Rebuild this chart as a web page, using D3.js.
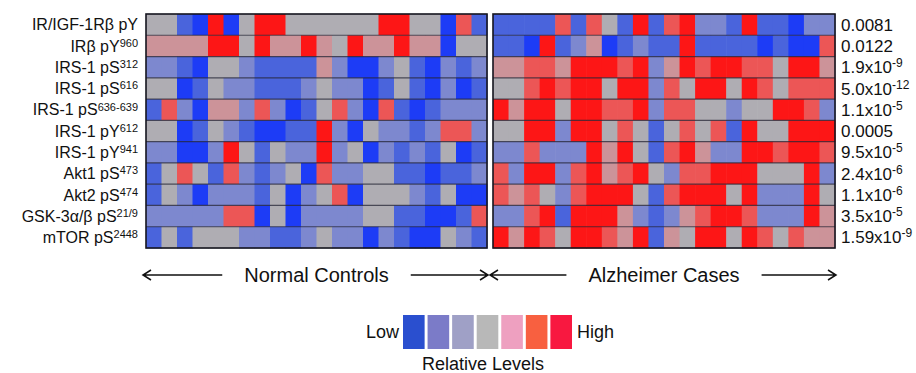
<!DOCTYPE html>
<html>
<head>
<meta charset="utf-8">
<script src="https://cdn.jsdelivr.net/npm/d3@7"></script>
<style>
  body { margin: 0; background: #fff; }
  svg text { font-family: "Liberation Sans", Arial, sans-serif; fill: #111; }
</style>
</head>
<body>
<div id="chartdiv"></div>
<script>
// row labels (name + superscript)
var rowNames = ["IR/IGF-1R\u03b2 pY", "IR\u03b2 pY", "IRS-1 pS", "IRS-1 pS", "IRS-1 pS", "IRS-1 pY",
                "IRS-1 pY", "Akt1 pS", "Akt2 pS", "GSK-3\u03b1/\u03b2 pS", "mTOR pS"];
var rowSups = ["", "960", "312", "616", "636-639", "612", "941", "473", "474", "21/9", "2448"];

// p-values: base and exponent (empty = plain number)
var pBase = ["0.0081", "0.0122", "1.9x10", "5.0x10", "1.1x10", "0.0005", "9.5x10", "2.4x10", "1.1x10", "3.5x10", "1.59x10"];
var pExp  = ["", "", "-9", "-12", "-5", "", "-5", "-6", "-6", "-5", "-9"];

var groups = ["Normal Controls", "Alzheimer Cases"];

// relative levels, -3 (low) .. 3 (high); one row per protein
var controls = [
  [0,0,-2,-3,3,-3,0,3,3,0,0,0,0,0,0,3,3,0,0,-3,2,-2],
  [1,1,1,1,3,3,0,3,1,1,3,1,0,3,1,1,3,1,1,-3,0,0],
  [-1,-1,-2,-3,0,0,-1,-2,-2,-2,-2,1,-1,-3,-3,-1,0,-2,-3,-1,-2,-1],
  [0,0,-3,-2,0,-1,-1,-2,-2,-2,-1,0,-1,-1,-3,-2,0,-2,-3,-1,-3,-2],
  [-2,2,-1,-3,1,1,-1,2,-1,-3,-2,0,2,-1,-3,2,-2,-3,-2,-1,-1,-1],
  [0,0,-3,-2,0,-1,-2,-3,-3,-2,-2,3,-1,-3,0,-1,-1,-2,-1,2,2,-1],
  [-1,-1,-3,-3,-1,3,0,-2,0,-1,-1,3,-1,0,-3,-1,-2,-1,-2,0,-3,-2],
  [-2,0,2,0,-2,2,-1,-2,-1,0,-3,2,-1,-1,0,0,-2,-2,-3,-2,-2,-1],
  [-2,0,-1,-3,-1,-1,-1,-2,0,-3,-1,0,2,-3,0,0,0,-1,-2,0,-3,-3],
  [-1,-1,-1,-1,-1,2,2,-3,0,-3,-1,-1,-1,-1,0,0,-2,-2,-3,-3,-2,2],
  [-2,0,-2,0,0,0,-1,-1,-2,-2,-1,0,-1,-1,-3,-1,-2,-3,-3,0,-1,-2]
];
var alzheimer = [
  [-2,-2,-2,-2,2,-2,2,0,-2,3,-2,2,3,-1,-1,-2,3,-2,-2,-3,-1,-1],
  [-2,-2,-3,3,-2,-1,1,-3,-2,-1,-2,-2,3,-2,-2,-2,-2,-3,-2,-3,-3,2],
  [1,1,2,2,1,3,3,3,2,3,-1,1,3,2,3,3,2,2,0,3,3,1],
  [0,0,2,3,2,3,3,0,3,3,-1,2,0,3,3,0,3,2,0,2,2,2],
  [3,1,3,3,0,3,3,2,2,3,-1,2,2,0,0,-1,0,0,3,3,2,-1],
  [0,0,3,3,-1,3,3,0,2,0,-2,0,2,0,2,-2,3,0,0,3,3,3],
  [-1,-1,2,-1,-1,-1,3,1,3,0,-2,2,3,1,-1,-1,3,3,2,3,3,2],
  [2,-1,3,3,-1,2,3,1,2,3,0,-1,2,2,3,3,3,0,0,0,3,-1],
  [2,1,2,0,-1,2,3,3,3,0,-2,2,3,3,3,0,3,-1,-1,-1,3,0],
  [-1,-1,2,3,-2,3,3,3,1,-1,-2,-1,1,2,3,3,2,-1,-1,-1,3,1],
  [3,1,3,2,0,3,3,2,1,3,-2,1,0,3,3,0,3,2,0,2,1,1]
];

var legendLevels = [-3, -2, -1, 0, 1, 2, 3];

var width = 916, height = 373;

var svg = d3.select("#chartdiv").append("svg")
  .attr("width", width)
  .attr("height", height);

var color = d3.scaleOrdinal()
  .domain(legendLevels)
  .range(["#1d3cf6", "#4a64dc", "#7d88cf", "#afadb3", "#cc9399", "#ec5656", "#fd1616"]);

var legendColor = d3.scaleOrdinal()
  .domain(legendLevels)
  .range(["#2a4fcf", "#7b7bc8", "#9fa0c6", "#b8b8b8", "#eea0c0", "#f86040", "#f81840"]);

var y = d3.scaleBand()
  .domain(d3.range(rowNames.length))
  .range([14, 248]);

var panels = [
  { data: controls,  x: d3.scaleBand().domain(d3.range(22)).range([146, 487]) },
  { data: alzheimer, x: d3.scaleBand().domain(d3.range(22)).range([493, 835]) }
];

panels.forEach(function(p, pi) {
  var g = svg.append("g").attr("class", "panel");
  p.data.forEach(function(row, ri) {
    g.selectAll(".c" + ri)
      .data(row)
      .enter().append("rect")
        .attr("x", (d, i) => p.x(i))
        .attr("y", y(ri))
        .attr("width", p.x.bandwidth() + 0.6)
        .attr("height", y.bandwidth() + 0.4)
        .style("fill", d => color(d));
  });
  // row separators
  g.selectAll(".sep")
    .data(d3.range(1, rowNames.length))
    .enter().append("line")
      .attr("x1", p.x.range()[0])
      .attr("x2", p.x.range()[1])
      .attr("y1", d => y(d))
      .attr("y2", d => y(d))
      .attr("stroke", "#262636")
      .attr("stroke-opacity", 0.75)
      .attr("stroke-width", 1.2);
  g.append("rect")
    .attr("x", p.x.range()[0])
    .attr("y", y.range()[0])
    .attr("width", p.x.range()[1] - p.x.range()[0])
    .attr("height", y.range()[1] - y.range()[0])
    .attr("fill", "none")
    .attr("stroke", "#15151f")
    .attr("stroke-width", 1.6);

  // group label with arrows
  var x0 = p.x.range()[0], x1 = p.x.range()[1];
  var cx = (x0 + x1) / 2, ay = 275;
  var t = svg.append("text")
    .attr("x", cx)
    .attr("y", ay)
    .attr("dy", "0.35em")
    .attr("text-anchor", "middle")
    .attr("font-size", "20px")
    .text(groups[pi]);
  var tw = t.node().getComputedTextLength();
  var a1 = x0 - 3, a2 = cx - tw / 2 - 22, b1 = cx + tw / 2 + 22, b2 = x1 + 1;
  var arrows = svg.append("g").attr("fill", "none").attr("stroke", "#111").attr("stroke-width", 1.5);
  arrows.append("path").attr("d", "M" + a2 + "," + ay + "H" + a1 + "M" + (a1 + 8) + "," + (ay - 5) + "L" + a1 + "," + ay + "L" + (a1 + 8) + "," + (ay + 5));
  arrows.append("path").attr("d", "M" + b1 + "," + ay + "H" + b2 + "M" + (b2 - 8) + "," + (ay - 5) + "L" + b2 + "," + ay + "L" + (b2 - 8) + "," + (ay + 5));
});

// row labels
var lab = svg.append("g").selectAll("text")
  .data(rowNames)
  .enter().append("text")
    .attr("x", 138)
    .attr("y", (d, i) => y(i) + y.bandwidth() / 2)
    .attr("dy", "0.36em")
    .attr("text-anchor", "end")
    .attr("font-size", "16px");
lab.append("tspan").text(d => d);
lab.append("tspan")
  .attr("dy", "-0.45em")
  .attr("font-size", "11px")
  .text((d, i) => rowSups[i]);

// p-values
var pv = svg.append("g").selectAll("text")
  .data(pBase)
  .enter().append("text")
    .attr("x", 841)
    .attr("y", (d, i) => y(i) + y.bandwidth() / 2)
    .attr("dy", "0.36em")
    .attr("font-size", "17px");
pv.append("tspan").text(d => d);
pv.append("tspan")
  .attr("dy", "-0.5em")
  .attr("font-size", "12px")
  .text((d, i) => pExp[i]);

// legend
var lx = d3.scaleBand().domain(legendLevels).range([403, 572]).paddingInner(0.12);
var leg = svg.append("g");
leg.selectAll("rect")
  .data(legendLevels)
  .enter().append("rect")
    .attr("x", d => lx(d))
    .attr("y", 315)
    .attr("width", lx.bandwidth())
    .attr("height", 34)
    .style("fill", d => legendColor(d));
leg.append("text").attr("x", 399).attr("y", 332).attr("dy", "0.35em")
  .attr("text-anchor", "end").attr("font-size", "18px").text("Low");
leg.append("text").attr("x", 577).attr("y", 332).attr("dy", "0.35em")
  .attr("font-size", "18px").text("High");
leg.append("text").attr("x", 483).attr("y", 370)
  .attr("text-anchor", "middle").attr("font-size", "18px").text("Relative Levels");
</script>
</body>
</html>
